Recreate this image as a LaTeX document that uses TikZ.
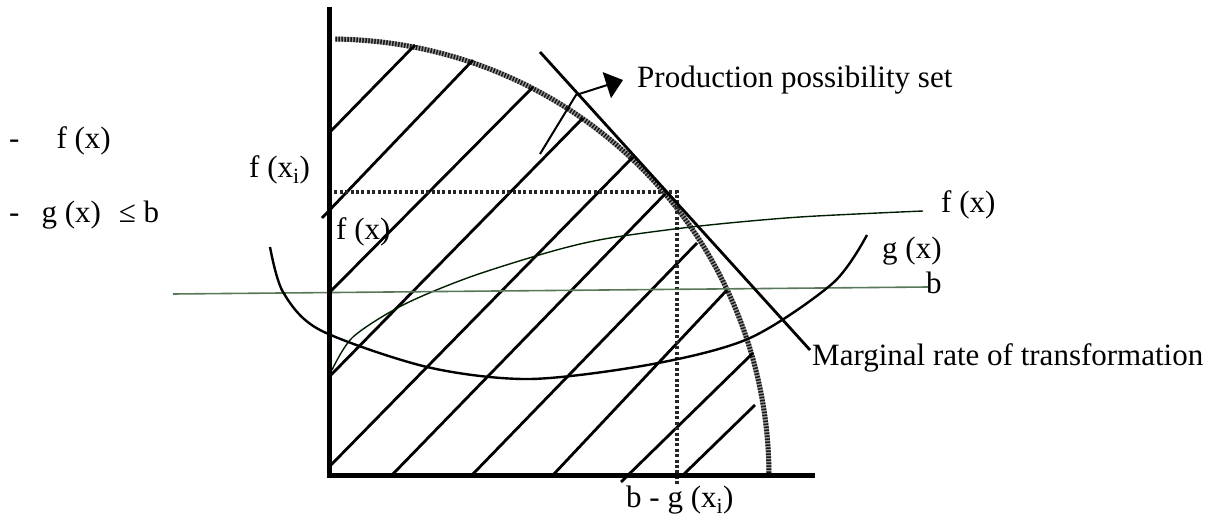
\documentclass[tikz,border=0pt]{standalone}
\usepackage{fontspec}
\setmainfont{Liberation Serif}
\usetikzlibrary{arrows.meta}
\begin{document}
\begin{tikzpicture}[x=1pt,y=-1pt,
  axis/.style={line width=5pt, line cap=rect},
  hatch/.style={line width=2.8pt},
  lbl/.style={inner sep=0pt, font=\fontsize{31}{36}\selectfont},
  frontierbase/.style={line width=5pt, black!40},
  frontierdots/.style={line width=5pt, black!90, dash pattern=on 1.5pt off 1.5pt},
  crossdot/.style={line width=4pt, black!85, dash pattern=on 3pt off 2.4pt},
  thincurve/.style={line width=1.4pt, black!80!green!60!black},
  bline/.style={line width=1.6pt, black!60!green!30!gray},
  gcurve/.style={line width=2.4pt}]
\useasboundingbox (0,0) rectangle (1224,521);
\fill[white] (0,0) rectangle (1224,521);

% frontier (production possibility curve)
\draw[frontierbase] plot[domain=-89.3:-0.4, samples=90] ({330+439*cos(\x)},{476+437*sin(\x)});
\draw[frontierdots] plot[domain=-89.3:-0.4, samples=90] ({330+439*cos(\x)},{476+437*sin(\x)});

% hatch lines
\coordinate (a1) at (329,133); \coordinate (a2) at (415,45);
\coordinate (b1) at (322,218); \coordinate (b2) at (473,60);
\coordinate (c1) at (329,293); \coordinate (c2) at (533,87);
\coordinate (d1) at (329,377); \coordinate (d2) at (583,118);
\coordinate (e1) at (329,467); \coordinate (e2) at (633,157);
\coordinate (f1) at (392,475); \coordinate (f2) at (667,192);
\coordinate (g1) at (472,475); \coordinate (g2) at (697,243);
\coordinate (h1) at (553,475); \coordinate (h2) at (727,290);
\coordinate (i1) at (621,482); \coordinate (i2) at (753,353);
\coordinate (j1) at (683,475); \coordinate (j2) at (755,405);
\foreach \p in {a,b,c,d,e,f,g,h,i,j}{\draw[hatch] (\p1) -- (\p2);}

% dotted guides
\coordinate (fxi) at (329,192);
\coordinate (T) at (677,192);
\coordinate (bgx) at (677,485);
\draw[crossdot] (fxi) -- (T) -- (bgx);

% f(x) curve
\draw[thincurve] plot[smooth] coordinates {(332,370) (353,337) (403,305) (470,277) (553,251) (610,238) (700,226) (800,217) (923,211)};
% b line
\coordinate (bl) at (173,294);
\coordinate (br) at (928,287);
\draw[bline] (bl) -- (br);
% g(x) curve
\draw[gcurve] plot[smooth] coordinates {(270,247) (283,292) (320,330) (427,367) (530,379) (653,364) (750,338) (833,283) (867,235)};

% tangent line (marginal rate of transformation)
\coordinate (t1) at (540,52);
\coordinate (t2) at (810,350);
\draw[hatch] (t1) -- (t2);

% axes
\coordinate (O) at (329,475);
\coordinate (Ytop) at (329,10);
\coordinate (Xend) at (812,475);
\draw[axis] (Ytop) -- (O) -- (Xend);

% arrow to label
\coordinate (s1) at (540,154);
\coordinate (s2) at (576,95);
\coordinate (s3) at (623,80);
\draw[line width=2pt, -{Triangle[length=17pt,width=27pt]}] (s1) -- (s2) -- (s3);

% labels
\node[lbl, anchor=base west] (pps) at (637,88) {Production possibility set};
\node[lbl, anchor=base west] (mrt) at (812,366) {Marginal rate of transformation};
\node[lbl, anchor=west] (fxr) at (941,205) {f (x)};
\node[lbl, anchor=west] (gxr) at (882,251) {g (x)};
\node[lbl, anchor=base west] (bb) at (926,294) {b};
\node[lbl, anchor=west] (bgxi) at (626,500) {b - g (x\textsubscript{i})};
\node[lbl, anchor=west] (fxil) at (249,170) {f (x\textsubscript{i})};
\node[lbl, anchor=west] (fxin) at (336,232) {f (x)};
\node[lbl, anchor=west] (obj) at (9,141) {-\hspace{37pt}f (x)};
\node[lbl, anchor=west] (con) at (9,215) {-\hspace{22pt}g (x)\hspace{18pt}≤ b};
\end{tikzpicture}
\end{document}
